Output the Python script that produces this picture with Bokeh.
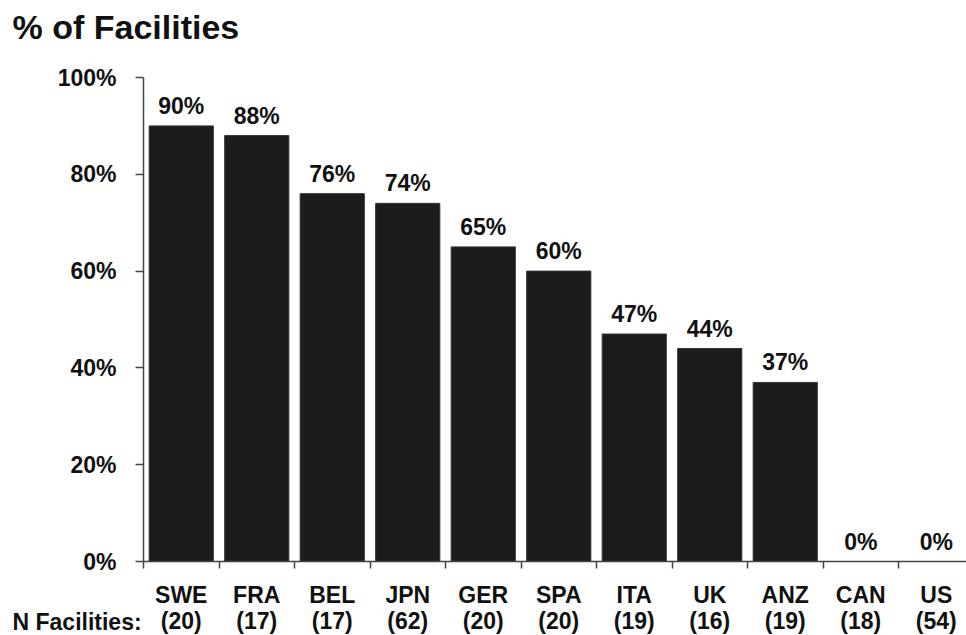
from bokeh.plotting import figure
from bokeh.models import Range1d, FixedTicker, LinearAxis, ColumnDataSource
from bokeh.core.properties import value
from bokeh.embed import file_html
from bokeh.resources import INLINE

countries = ["SWE", "FRA", "BEL", "JPN", "GER", "SPA", "ITA", "UK", "ANZ", "CAN", "US"]
n_facilities = [20, 17, 17, 62, 20, 20, 19, 16, 19, 18, 54]
pct = [90, 88, 76, 74, 65, 60, 47, 44, 37, 0, 0]
y_ticks = [0, 20, 40, 60, 80, 100]

FONT = "Liberation Sans"
TXT = "#111111"
AX = "#444444"

W, H = 966, 635
# layout: where the axes sit on the canvas, and pixels per data unit
X0_PX, PX_PER_X = 143, 75.5      # x = 0 (left axis) at pixel 143, one category = 75.5 px
Y0_PX, PX_PER_Y = 561, 4.84      # y = 0 at pixel 561, 100% = 484 px

def x_at(px):
    return (px - X0_PX) / PX_PER_X

def y_at(px):
    return (Y0_PX - px) / PX_PER_Y

xs = [i + 0.5 for i in range(len(countries))]
src = ColumnDataSource(dict(
    x=xs,
    top=pct,
    lab=[f"{v}%" for v in pct],
))

p = figure(
    width=W, height=H,
    output_backend="svg", toolbar_location=None,
    x_range=Range1d(x_at(0), x_at(W)), y_range=Range1d(y_at(H), y_at(0)),
    min_border=0, min_border_left=0, min_border_right=0, min_border_top=0, min_border_bottom=0,
    background_fill_color="white", border_fill_color="white",
    outline_line_color=None,
)

p.vbar(x="x", top="top", width=0.85, bottom=0, source=src,
       fill_color="#1c1c1c", line_color="#333333", line_width=1)

p.text(x="x", y="top", text="lab", source=src,
       text_align="center", text_baseline="alphabetic", y_offset=-20,
       text_font=value(FONT), text_font_size="23px", text_font_style="bold",
       text_color=TXT)

p.xgrid.visible = False
p.ygrid.visible = False

def style_labels(ax):
    ax.major_label_text_font = FONT
    ax.major_label_text_font_size = "23px"
    ax.major_label_text_font_style = "bold"
    ax.major_label_text_color = TXT

# x axis: country labels at centers, boundary ticks as minor ticks
xa = p.xaxis[0]
xa.fixed_location = 0
xa.bounds = (0, x_at(W))
xa.ticker = FixedTicker(ticks=xs, minor_ticks=list(range(len(countries))))
xa.major_label_overrides = {x: c for x, c in zip(xs, countries)}
xa.major_tick_out = 0
xa.major_tick_in = 0
xa.minor_tick_out = 7
xa.minor_tick_in = 0
xa.minor_tick_line_color = AX
xa.minor_tick_line_width = 1.5
xa.axis_line_color = AX
xa.axis_line_width = 1.5
xa.major_label_standoff = 13
style_labels(xa)

# second row of x labels: facility counts
xb = LinearAxis(ticker=FixedTicker(ticks=xs, minor_ticks=[]),
                major_label_overrides={x: f"({n})" for x, n in zip(xs, n_facilities)},
                fixed_location=y_at(607), bounds=(0, x_at(W)))
xb.axis_line_color = None
xb.major_tick_line_color = None
xb.minor_tick_line_color = None
xb.major_tick_out = 0
xb.major_tick_in = 0
xb.major_label_standoff = 0
style_labels(xb)
p.add_layout(xb, "below")

ya = p.yaxis[0]
ya.fixed_location = 0
ya.bounds = (0, 100)
ya.ticker = FixedTicker(ticks=y_ticks)
ya.major_label_overrides = {v: f"{v}%" for v in y_ticks}
ya.minor_tick_line_color = None
ya.major_tick_out = 8
ya.major_tick_in = 0
ya.major_tick_line_color = AX
ya.major_tick_line_width = 1.5
ya.axis_line_color = AX
ya.axis_line_width = 1.5
ya.major_label_standoff = 19
style_labels(ya)

# row caption for the counts, and the chart title
p.text(x=[x_at(12)], y=[y_at(621)], text=["N Facilities:"],
       text_align="left", text_baseline="middle",
       text_font=value(FONT), text_font_size="23px", text_font_style="bold",
       text_color=TXT)
p.text(x=[x_at(12)], y=[y_at(26)], text=["% of Facilities"],
       text_align="left", text_baseline="middle",
       text_font=value(FONT), text_font_size="34px", text_font_style="bold",
       text_color=TXT)

open("out.html", "w").write(file_html(p, INLINE))
